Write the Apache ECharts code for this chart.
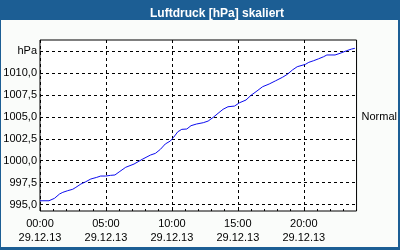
<!DOCTYPE html>
<html><head><meta charset="utf-8">
<script src="https://cdn.jsdelivr.net/npm/echarts@6/dist/echarts.min.js"></script>
<style>html,body{margin:0;padding:0;background:#fafcfa}#c{width:400px;height:250px}</style>
</head><body><div id="c"></div>
<script>
const chartTitle = 'Luftdruck [hPa] skaliert';
const unitLabel = 'hPa';
const dateLabel = '29.12.13';
const refLabel = 'Normal';
const refValue = 1005;
const yTickValues = [995, 997.5, 1000, 1002.5, 1005, 1007.5, 1010, 1012.5];
const xLabelHours = [0, 5, 10, 15, 20];
const xHourTicks = [0,1,2,3,4,5,6,7,8,9,10,11,12,13,14,15,16,17,18,19,20,21,22,23,24];
const hours = [0,0.68,1.1,1.48,1.73,2.1,2.48,2.72,3.1,3.47,3.85,4.3,4.6,4.97,5.35,5.68,6.0,6.5,7.13,7.75,8.38,8.75,9.13,9.5,9.88,10.13,10.45,10.75,11.13,11.45,11.87,12.38,12.75,13.13,13.5,13.88,14.25,14.75,15.13,15.62,16.0,16.38,16.88,17.38,17.87,18.38,18.75,19.13,19.5,20.12,20.38,20.75,21.13,21.5,21.75,22.37,22.75,23.25,23.63,23.87];
const pressure = [995.43,995.43,995.71,996.2,996.39,996.58,996.74,996.96,997.34,997.6,997.91,998.1,998.25,998.25,998.33,998.37,998.72,999.25,999.62,1000.16,1000.65,1000.84,1001.3,1001.91,1002.25,1002.67,1003.31,1003.58,1003.62,1004.0,1004.19,1004.34,1004.53,1004.95,1005.41,1005.87,1006.16,1006.24,1006.62,1006.93,1007.47,1007.88,1008.45,1008.76,1009.13,1009.52,1009.86,1010.35,1010.73,1011.0,1011.23,1011.42,1011.64,1011.87,1012.07,1012.07,1012.26,1012.56,1012.75,1012.83];

const yMin = 994.26, yMax = 1013.78;
const font = 'Liberation Sans';
const pad = n => (n < 10 ? '0' : '') + n;
const chart = echarts.init(document.getElementById('c'), null, {renderer: 'canvas'});
chart.setOption({
  animation: false,
  backgroundColor: '#fafcfa',
  title: {
    text: chartTitle, left: 145, top: 3,
    textStyle: {color: '#ffffff', fontFamily: font, fontWeight: 'bold', fontSize: 12}
  },
  graphic: [
    {type: 'rect', z: -1, shape: {x: 0, y: 0, width: 400, height: 20}, style: {fill: '#1c5e94'}},
    {type: 'rect', shape: {x: 0, y: 20, width: 1, height: 230}, style: {fill: '#1c5e94'}},
    {type: 'rect', shape: {x: 398, y: 20, width: 2, height: 230}, style: {fill: '#1c5e94'}},
    {type: 'rect', shape: {x: 0, y: 247, width: 400, height: 3}, style: {fill: '#1c5e94'}}
  ],
  grid: {left: 40, right: 40, top: 40, bottom: 39, show: true, backgroundColor: '#ffffff', borderColor: '#000', borderWidth: 1},
  xAxis: [{
    type: 'value', min: 0, max: 24,
    axisLine: {show: false},
    axisTick: {show: true, inside: true, length: 4, customValues: xLabelHours, lineStyle: {color: '#000'}},
    axisLabel: {customValues: xLabelHours, margin: 6, color: '#000', fontFamily: font, fontSize: 11, lineHeight: 14,
      formatter: v => pad(v) + ':00\n' + dateLabel},
    splitLine: {show: true, lineStyle: {color: '#000', type: [3, 3], width: 1}}
  }, {
    type: 'value', min: 0, max: 24, position: 'bottom',
    axisLine: {show: false},
    axisTick: {show: true, inside: true, length: 2, customValues: xHourTicks, lineStyle: {color: '#000'}},
    axisLabel: {show: false},
    splitLine: {show: false}
  }],
  yAxis: [{
    type: 'value', min: yMin, max: yMax,
    axisLine: {show: false},
    axisTick: {show: false, customValues: yTickValues},
    axisLabel: {customValues: yTickValues, margin: 3, color: '#000', fontFamily: font, fontSize: 11,
      formatter: v => v === 1012.5 ? unitLabel : v.toFixed(1).replace('.', ',')},
    splitLine: {show: true, lineStyle: {color: '#000', type: [3, 3], width: 1}}
  }, {
    type: 'value', min: yMin, max: yMax, position: 'right',
    axisLine: {show: false},
    axisTick: {show: true, length: 3, customValues: [refValue], lineStyle: {color: '#000'}},
    axisLabel: {customValues: [refValue], margin: 5, color: '#000', fontFamily: font, fontSize: 11,
      formatter: () => refLabel},
    splitLine: {show: false}
  }],
  series: [{
    type: 'line', xAxisIndex: 0, yAxisIndex: 0,
    data: hours.map((h, i) => [h, pressure[i]]),
    showSymbol: false, symbol: 'none',
    lineStyle: {color: '#0c0cf0', width: 1}
  }]
});
</script></body></html>
